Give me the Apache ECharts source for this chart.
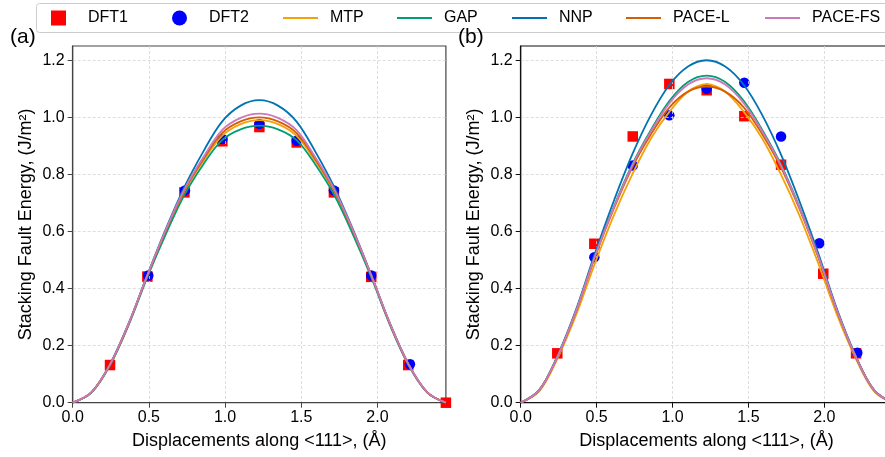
<!DOCTYPE html>
<html><head><meta charset="utf-8">
<script src="https://cdn.jsdelivr.net/npm/echarts@6/dist/echarts.min.js"></script>
<style>html,body{margin:0;padding:0;background:#fff}#c{width:885px;height:457px}</style>
</head><body><div id="c"></div>
<script>
// ---------- data ----------
const xCurve = [0, 0.1225, 0.245, 0.367, 0.49, 0.612, 0.735, 0.857, 0.98, 1.102, 1.2245, 1.347, 1.469, 1.592, 1.714, 1.837, 1.959, 2.082, 2.204, 2.327, 2.449];
const xTicks = [0, 0.5, 1.0, 1.5, 2.0];
const yTicks = [0, 0.2, 0.4, 0.6, 0.8, 1.0, 1.2];
const legendNames = ['DFT1', 'DFT2', 'MTP', 'GAP', 'NNP', 'PACE-L', 'PACE-FS'];

// panel (a)
const dft1X_a = [0.245, 0.49, 0.733, 0.982, 1.225, 1.47, 1.714, 1.959, 2.202, 2.449];
const dft1Y_a = [0.132, 0.442, 0.737, 0.916, 0.966, 0.912, 0.737, 0.441, 0.132, 0.0];
const dft2X_a = [0.496, 0.737, 0.982, 1.225, 1.47, 1.714, 1.959, 2.213];
const dft2Y_a = [0.446, 0.744, 0.924, 0.977, 0.918, 0.744, 0.446, 0.135];
const mtp_a    = [0, 0.035, 0.133, 0.275, 0.445, 0.602, 0.742, 0.847, 0.935, 0.976, 0.990, 0.976, 0.935, 0.847, 0.742, 0.602, 0.445, 0.275, 0.133, 0.035, 0];
const gap_a    = [0, 0.035, 0.131, 0.272, 0.440, 0.592, 0.730, 0.835, 0.920, 0.958, 0.971, 0.958, 0.920, 0.835, 0.730, 0.592, 0.440, 0.272, 0.131, 0.035, 0];
const nnp_a    = [0, 0.036, 0.135, 0.278, 0.448, 0.610, 0.758, 0.880, 0.985, 1.041, 1.060, 1.041, 0.985, 0.880, 0.758, 0.610, 0.448, 0.278, 0.135, 0.036, 0];
const paceL_a  = [0, 0.036, 0.134, 0.276, 0.446, 0.604, 0.745, 0.853, 0.945, 0.986, 1.000, 0.986, 0.945, 0.853, 0.745, 0.604, 0.446, 0.276, 0.134, 0.036, 0];
const paceFS_a = [0, 0.036, 0.134, 0.277, 0.447, 0.607, 0.750, 0.860, 0.955, 0.998, 1.013, 0.998, 0.955, 0.860, 0.750, 0.607, 0.447, 0.277, 0.134, 0.036, 0];

// panel (b)
const dft1X_b = [0.241, 0.485, 0.738, 0.979, 1.225, 1.473, 1.715, 1.993, 2.209, 2.449];
const dft1Y_b = [0.173, 0.557, 0.933, 1.117, 1.095, 1.004, 0.834, 0.452, 0.173, 0.0];
const dft2X_b = [0.485, 0.738, 0.979, 1.225, 1.473, 1.715, 1.967, 2.217];
const dft2Y_b = [0.510, 0.831, 1.007, 1.100, 1.121, 0.933, 0.559, 0.175];
const mtp_b    = [0, 0.040, 0.158, 0.310, 0.490, 0.655, 0.800, 0.925, 1.020, 1.090, 1.116, 1.090, 1.020, 0.925, 0.800, 0.655, 0.490, 0.310, 0.158, 0.040, 0];
const gap_b    = [0, 0.044, 0.165, 0.325, 0.515, 0.685, 0.835, 0.955, 1.058, 1.124, 1.146, 1.124, 1.058, 0.955, 0.835, 0.685, 0.515, 0.325, 0.165, 0.044, 0];
const nnp_b    = [0, 0.045, 0.168, 0.330, 0.525, 0.705, 0.870, 1.007, 1.114, 1.178, 1.200, 1.178, 1.114, 1.007, 0.870, 0.705, 0.525, 0.330, 0.168, 0.045, 0];
const paceL_b  = [0, 0.044, 0.164, 0.323, 0.512, 0.678, 0.825, 0.940, 1.035, 1.090, 1.108, 1.090, 1.035, 0.940, 0.825, 0.678, 0.512, 0.323, 0.164, 0.044, 0];
const paceFS_b = [0, 0.044, 0.165, 0.325, 0.515, 0.683, 0.832, 0.950, 1.050, 1.115, 1.137, 1.115, 1.050, 0.950, 0.832, 0.683, 0.515, 0.325, 0.165, 0.044, 0];

// ---------- styling ----------
const FONT = "'Liberation Sans', Arial, Helvetica, sans-serif";
const lineColors = {'MTP': '#f4a20a', 'GAP': '#029E73', 'NNP': '#0173B2', 'PACE-L': '#D55E00', 'PACE-FS': '#CC78BC'};

function pairs(xs, ys) { return xs.map((x, i) => [x, ys[i]]); }

function xAxisFor(idx, axisColor) {
  return {
    type: 'value', gridIndex: idx, min: 0, max: 2.449, interval: 0.5, z: 2,
    axisLine: {show: true, onZero: false, lineStyle: {color: axisColor, width: 1.2}},
    axisTick: {show: true, length: 5, customValues: xTicks, lineStyle: {color: axisColor, width: 1}},
    axisLabel: {customValues: xTicks, formatter: v => v.toFixed(1), margin: 7, fontSize: 16, color: '#000', fontFamily: FONT},
    splitLine: {show: true, lineStyle: {color: '#d6d6d6', width: 0.8, type: [3, 2]}},
    name: 'Displacements along <111>, (Å)', nameLocation: 'middle', nameGap: 29,
    nameTextStyle: {fontSize: 18, color: '#000', fontFamily: FONT}
  };
}
function yAxisFor(idx, axisColor) {
  return {
    type: 'value', gridIndex: idx, min: 0, max: 1.25, interval: 0.2, z: 2,
    axisLine: {show: true, onZero: false, lineStyle: {color: axisColor, width: 1.2}},
    axisTick: {show: true, length: 5, customValues: yTicks, lineStyle: {color: axisColor, width: 1}},
    axisLabel: {customValues: yTicks, formatter: v => v.toFixed(1), margin: 8, fontSize: 16, color: '#000', fontFamily: FONT},
    splitLine: {show: true, lineStyle: {color: '#d6d6d6', width: 0.8, type: [3, 2]}},
    name: 'Stacking Fault Energy, (J/m²)', nameLocation: 'middle', nameGap: 38, nameRotate: 90,
    nameTextStyle: {fontSize: 18, color: '#000', fontFamily: FONT}
  };
}

function panelSeries(idx, d) {
  const s = [];
  s.push({name: 'DFT1', type: 'scatter', xAxisIndex: idx, yAxisIndex: idx, symbol: 'rect', symbolSize: 10.5, z: 1,
          itemStyle: {color: '#ff0000', opacity: 1}, data: pairs(d.dft1X, d.dft1Y)});
  s.push({name: 'DFT2', type: 'scatter', xAxisIndex: idx, yAxisIndex: idx, symbol: 'circle', symbolSize: 10.5, z: 1,
          itemStyle: {color: '#0000ff', opacity: 1}, data: pairs(d.dft2X, d.dft2Y)});
  const lines = [['MTP', d.mtp], ['GAP', d.gap], ['NNP', d.nnp], ['PACE-L', d.paceL], ['PACE-FS', d.paceFS]];
  lines.forEach(([n, ys]) => {
    s.push({name: n, type: 'line', xAxisIndex: idx, yAxisIndex: idx, showSymbol: false, symbol: 'none', smooth: 0.35, z: 3,
            lineStyle: {color: lineColors[n], width: 1.8}, itemStyle: {color: lineColors[n]},
            data: pairs(xCurve, ys)});
  });
  return s;
}

const series = [].concat(
  panelSeries(0, {dft1X: dft1X_a, dft1Y: dft1Y_a, dft2X: dft2X_a, dft2Y: dft2Y_a, mtp: mtp_a, gap: gap_a, nnp: nnp_a, paceL: paceL_a, paceFS: paceFS_a}),
  panelSeries(1, {dft1X: dft1X_b, dft1Y: dft1Y_b, dft2X: dft2X_b, dft2Y: dft2Y_b, mtp: mtp_b, gap: gap_b, nnp: nnp_b, paceL: paceL_b, paceFS: paceFS_b})
);

// one legend component per entry, for exact placement
const legendLefts = [51, 172, 283, 397, 512, 626, 765];
const legends = legendNames.map((n, i) => {
  const isMarker = i < 2;
  return {
    data: [{name: n, icon: i === 1 ? 'circle' : 'rect', itemStyle: {opacity: 1}}],
    left: legendLefts[i], top: 10, padding: 0, selectedMode: false,
    itemWidth: isMarker ? 15 : 35, itemHeight: isMarker ? 15 : 2,
    textStyle: {fontSize: 16, color: '#000', fontFamily: FONT, lineHeight: 16, padding: [0, 0, 0, isMarker ? 17 : 7]}
  };
});

const chart = echarts.init(document.getElementById('c'), null, {renderer: 'canvas'});
chart.setOption({
  backgroundColor: '#fff',
  animation: false,
  legend: legends,
  grid: [
    {left: 72.7, top: 46, width: 373.2, height: 356.7, show: true, borderColor: '#444', borderWidth: 1.2, backgroundColor: 'transparent', containLabel: false, outerBoundsMode: 'none'},
    {left: 520.7, top: 46, width: 371.8, height: 356.7, show: true, borderColor: '#111', borderWidth: 1.2, backgroundColor: 'transparent', containLabel: false, outerBoundsMode: 'none'}
  ],
  xAxis: [xAxisFor(0, '#444'), xAxisFor(1, '#111')],
  yAxis: [yAxisFor(0, '#444'), yAxisFor(1, '#111')],
  graphic: [
    {type: 'rect', shape: {x: 36.5, y: 3.5, width: 870, height: 29, r: 3}, style: {fill: '#fff', stroke: '#cccccc', lineWidth: 1}, z: -1},
    {type: 'text', x: 10, y: 37, style: {text: '(a)', fontSize: 21, fontFamily: FONT, fill: '#000', verticalAlign: 'middle'}},
    {type: 'text', x: 458, y: 37, style: {text: '(b)', fontSize: 21, fontFamily: FONT, fill: '#000', verticalAlign: 'middle'}}
  ],
  series: series
});
</script>
</body></html>
